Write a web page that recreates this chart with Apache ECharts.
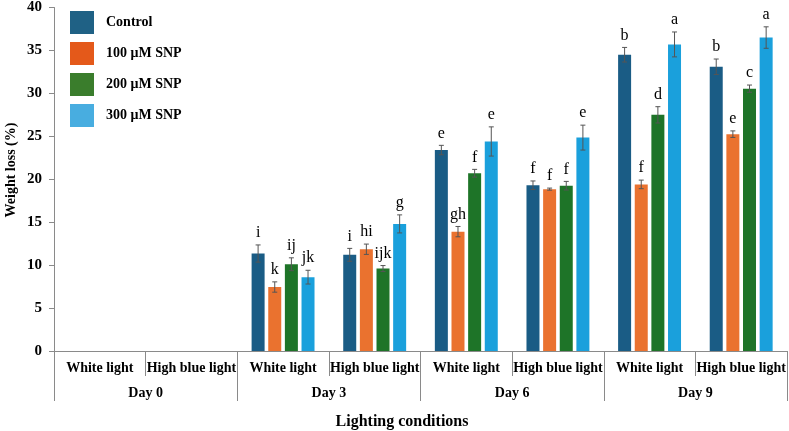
<!DOCTYPE html>
<html>
<head>
<meta charset="utf-8">
<script src="https://cdn.jsdelivr.net/npm/echarts@6/dist/echarts.min.js"></script>
<style>html,body{margin:0;padding:0;background:#fff;}#c{width:789px;height:431px;}</style>
</head>
<body>
<div id="c"></div>
<script>
const subCategories = ['White light','High blue light','White light','High blue light','White light','High blue light','White light','High blue light'];
const days = ['Day 0','Day 3','Day 6','Day 9'];
const seriesNames = ['Control','100 μM SNP','200 μM SNP','300 μM SNP'];
const yTicks = [0,5,10,15,20,25,30,35,40];

const controlVals = [null,null,11.35,11.2,23.4,19.3,34.5,33.1];
const snp100Vals  = [null,null,7.45,11.85,13.9,18.85,19.4,25.25];
const snp200Vals  = [null,null,10.1,9.6,20.7,19.25,27.5,30.55];
const snp300Vals  = [null,null,8.6,14.8,24.4,24.85,35.7,36.5];

const controlErr = [null,null,1.0,0.75,0.55,0.5,0.85,0.9];
const snp100Err  = [null,null,0.6,0.6,0.6,0.12,0.5,0.38];
const snp200Err  = [null,null,0.75,0.35,0.45,0.5,0.95,0.42];
const snp300Err  = [null,null,0.8,1.05,1.7,1.45,1.45,1.25];

const controlLetters = ['','','i','i','e','f','b','b'];
const snp100Letters  = ['','','k','hi','gh','f','f','e'];
const snp200Letters  = ['','','ij','ijk','f','f','d','c'];
const snp300Letters  = ['','','jk','g','e','e','a','a'];

const values = [controlVals, snp100Vals, snp200Vals, snp300Vals];
const errs = [controlErr, snp100Err, snp200Err, snp300Err];
const letters = [controlLetters, snp100Letters, snp200Letters, snp300Letters];
const barColors = ['#1a5c85','#ea722f','#1e7428','#1aa0dc'];
const legendColors = ['#1f6185','#e4591a','#3a7d2c','#48ade0'];

const FONT = '"Liberation Serif","Times New Roman",serif';
const BAR_W = 13, GAP = 0.28;
const chart = echarts.init(document.getElementById('c'));

const series = [];
values.forEach((vals, si) => {
  series.push({
    name: seriesNames[si], type: 'bar', xAxisIndex: 0,
    data: vals, barWidth: BAR_W, barGap: (GAP*100)+'%',
    itemStyle: { color: barColors[si] }, z: 2
  });
});
values.forEach((vals, si) => {
  const data = [];
  vals.forEach((v, i) => { if (v != null) data.push([i, v, errs[si][i], i]); });
  const offset = (si - 1.5) * BAR_W * (1 + GAP);
  series.push({
    type: 'custom', xAxisIndex: 0, z: 5, silent: true,
    data: data,
    renderItem: function (params, api) {
      const ci = api.value(0), v = api.value(1), e = api.value(2), idx = api.value(3);
      const top = api.coord([ci, v + e]);
      const bot = api.coord([ci, v - e]);
      const x = top[0] + offset;
      const cap = 2.5;
      const stroke = { stroke: '#555', lineWidth: 1 };
      return {
        type: 'group',
        children: [
          { type: 'line', shape: { x1: x, y1: top[1], x2: x, y2: bot[1] }, style: stroke },
          { type: 'line', shape: { x1: x - cap, y1: top[1], x2: x + cap, y2: top[1] }, style: stroke },
          { type: 'line', shape: { x1: x - cap, y1: bot[1], x2: x + cap, y2: bot[1] }, style: stroke },
          { type: 'text', x: x, y: top[1] - 4,
            style: { text: letters[si][idx], font: '16px ' + FONT, fill: '#000', textAlign: 'center', textVerticalAlign: 'bottom' } }
        ]
      };
    }
  });
});

const axisLineStyle = { color: '#8a8a8a', width: 1 };

chart.setOption({
  animation: false,
  backgroundColor: '#fff',
  grid: { left: 54, right: 2, top: 6, bottom: 80, containLabel: false },
  legend: {
    orient: 'vertical', left: 70, top: 11, padding: 0,
    itemWidth: 24, itemHeight: 23, itemGap: 8, icon: 'rect',
    selectedMode: false,
    data: seriesNames.map((n, i) => ({ name: n, itemStyle: { color: legendColors[i] } })),
    textStyle: { fontFamily: FONT, fontWeight: 'bold', fontSize: 14, color: '#000', padding: [0,0,0,7] }
  },
  xAxis: [
    {
      type: 'category', data: subCategories, position: 'bottom',
      axisLine: { show: true, lineStyle: axisLineStyle },
      axisTick: { show: true, length: 25, interval: 0, lineStyle: axisLineStyle },
      axisLabel: { interval: 0, margin: 10, fontFamily: FONT, fontWeight: 'bold', fontSize: 14, color: '#000' }
    },
    {
      type: 'category', data: days, position: 'bottom',
      axisLine: { show: false },
      axisTick: { show: true, length: 50, interval: 0, lineStyle: axisLineStyle },
      axisLabel: { interval: 0, margin: 35, fontFamily: FONT, fontWeight: 'bold', fontSize: 14, color: '#000' }
    }
  ],
  yAxis: {
    type: 'value', min: yTicks[0], max: yTicks[yTicks.length-1], interval: 5,
    axisLine: { show: true, lineStyle: axisLineStyle },
    axisTick: { show: true, length: 5, inside: false, lineStyle: axisLineStyle },
    splitLine: { show: false },
    axisLabel: { margin: 12, fontFamily: FONT, fontWeight: 'bold', fontSize: 15, color: '#000' }
  },
  graphic: [
    { type: 'text', x: 11, y: 170, rotation: Math.PI/2,
      style: { text: 'Weight loss (%)', font: 'bold 14px ' + FONT, fill: '#000', textAlign: 'center', textVerticalAlign: 'middle' } },
    { type: 'text', x: 402, y: 422,
      style: { text: 'Lighting conditions', font: 'bold 16px ' + FONT, fill: '#000', textAlign: 'center', textVerticalAlign: 'middle' } }
  ],
  series: series
});
</script>
</body>
</html>
